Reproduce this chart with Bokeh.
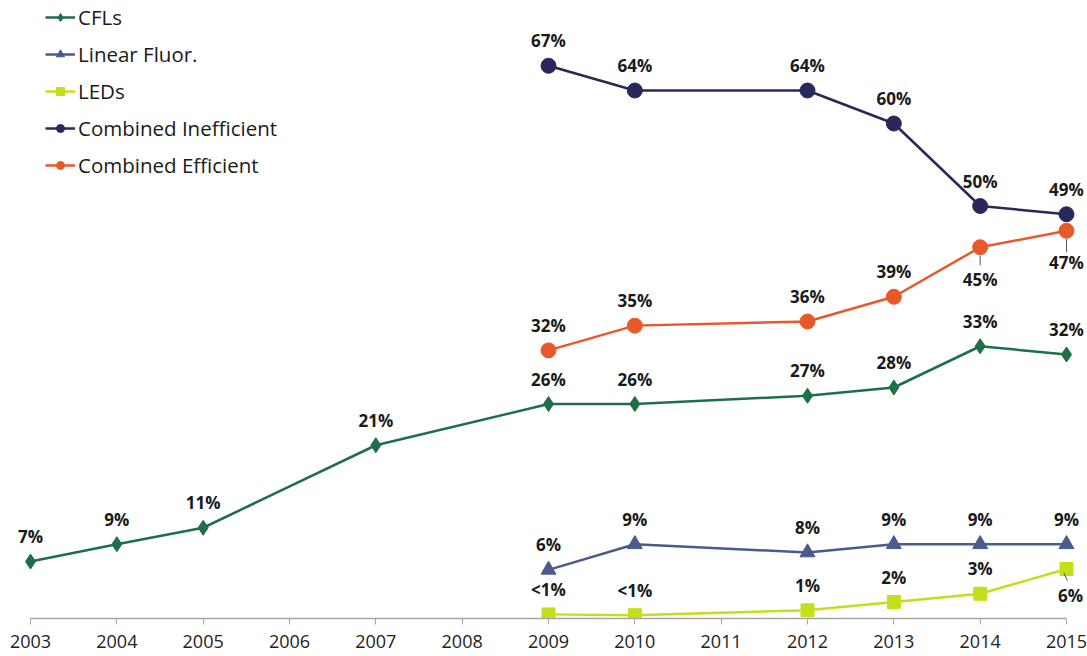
from bokeh.plotting import figure
from bokeh.models import Range1d, Legend, LegendItem, ColumnDataSource, FixedTicker
from bokeh.embed import file_html
from bokeh.resources import INLINE
from bokeh.core.properties import value

# ---- data ----
years_all = list(range(2003, 2016))

cfl_years = [2003, 2004, 2005, 2007, 2009, 2010, 2012, 2013, 2014, 2015]
cfl_vals = [6.9, 9, 11, 21, 26, 26, 27, 28, 33, 32]
cfl_labels = ["7%", "9%", "11%", "21%", "26%", "26%", "27%", "28%", "33%", "32%"]

sub_years = [2009, 2010, 2012, 2013, 2014, 2015]
lin_vals = [5.9, 9, 8, 9, 9, 9]
lin_labels = ["6%", "9%", "8%", "9%", "9%", "9%"]

led_vals = [0.5, 0.4, 1, 2, 3, 6]
led_labels = ["<1%", "<1%", "1%", "2%", "3%", "6%"]

ineff_vals = [67, 64, 64, 60, 50, 49]
ineff_labels = ["67%", "64%", "64%", "60%", "50%", "49%"]

eff_vals = [32.5, 35.5, 36, 39, 45, 47]
eff_labels = ["32%", "35%", "36%", "39%", "45%", "47%"]

names = ["CFLs", "Linear Fluor.", "LEDs", "Combined Inefficient", "Combined Efficient"]
colors = ["#1F6E4A", "#4B5A8E", "#C5DE1C", "#2A2859", "#E8592A"]
markers = ["diamond", "triangle", "square", "circle", "circle"]
marker_sizes = [15, 15, 13, 15, 15]

# ---- figure ----
W, H = 1087, 656
frame_h = 618
px_per_year = 86.33
px_per_pct = 8.25

p = figure(width=W, height=H, output_backend="svg", toolbar_location=None,
           x_range=Range1d(2003 - 30 / px_per_year, 2015 + 21 / px_per_year),
           y_range=Range1d(0, frame_h / px_per_pct),
           min_border_left=0, min_border_right=0, min_border_top=0,
           min_border_bottom=H - frame_h)
p.outline_line_color = None
p.grid.visible = False
p.yaxis.visible = False
p.background_fill_color = "white"

xa = p.xaxis[0]
xa.ticker = FixedTicker(ticks=years_all)
xa.bounds = (2003, 2015)
xa.axis_line_color = "#A6A6A6"
xa.axis_line_width = 1.3
xa.major_tick_line_color = "#A6A6A6"
xa.major_tick_out = 6
xa.major_tick_in = 0
xa.minor_tick_line_color = None
xa.major_label_text_font = "Open Sans"
xa.major_label_text_font_size = "18px"
xa.major_label_text_color = "#222222"
xa.major_label_standoff = 10

series = [
    (cfl_years, cfl_vals, cfl_labels),
    (sub_years, lin_vals, lin_labels),
    (sub_years, led_vals, led_labels),
    (sub_years, ineff_vals, ineff_labels),
    (sub_years, eff_vals, eff_labels),
]

items = []
for i, (xs, ys, labs) in enumerate(series):
    src = ColumnDataSource(dict(x=xs, y=ys))
    lr = p.line("x", "y", source=src, line_color=colors[i], line_width=2.5)
    sr = p.scatter("x", "y", source=src, marker=markers[i], size=marker_sizes[i],
                   fill_color=colors[i], line_color=colors[i])
    items.append(LegendItem(label=names[i], renderers=[lr, sr]))

# ---- data labels ----
below = {(4, 2014), (4, 2015), (2, 2015)}
for i, (xs, ys, labs) in enumerate(series):
    xo, yo = [], []
    for x, y in zip(xs, ys):
        if (i, x) in below:
            xo.append(4 if i == 2 else 0)
            yo.append(26 if i == 2 else 32)
        else:
            xo.append(0)
            yo.append(-25)
    src = ColumnDataSource(dict(x=xs, y=ys, t=labs, xo=xo, yo=yo))
    p.text("x", "y", text="t", source=src, x_offset="xo", y_offset="yo",
           text_align="center", text_baseline="middle",
           text_font=value("Open Sans"), text_font_style="bold",
           text_font_size="17px", text_color="#1a1a1a")

# leader lines for labels placed below their points
lead_x = [2014, 2015]
lead_y0 = [eff_vals[4] - 1.0, eff_vals[5] - 1.0]
lead_y1 = [eff_vals[4] - 2.2, eff_vals[5] - 2.6]
p.segment(x0=lead_x, y0=lead_y0, x1=lead_x, y1=lead_y1, line_color="#555555", line_width=1)
p.segment(x0=[2015 - 0.03], y0=[led_vals[5] - 0.5], x1=[2015 + 0.01], y1=[led_vals[5] - 1.4],
          line_color="#555555", line_width=1)

legend = Legend(items=items, location=(45, frame_h - 5 - 174),
                border_line_color=None, background_fill_alpha=0,
                padding=0, margin=0, spacing=9, glyph_width=30, glyph_height=20,
                label_height=20, label_standoff=3,
                label_text_font="Open Sans", label_text_font_size="20.5px",
                label_text_color="#1a1a1a")
p.add_layout(legend, "center")

open("out.html", "w").write(file_html(p, INLINE))
